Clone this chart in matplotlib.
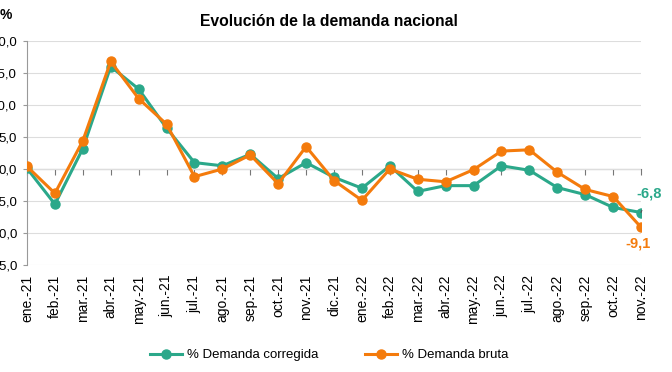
import numpy as np
import matplotlib
matplotlib.use("Agg")
import matplotlib.pyplot as plt

plt.rcParams['font.family'] = ['Liberation Sans', 'DejaVu Sans']

meses = ["ene.-21", "feb.-21", "mar.-21", "abr.-21", "may.-21", "jun.-21",
         "jul.-21", "ago.-21", "sep.-21", "oct.-21", "nov.-21", "dic.-21",
         "ene.-22", "feb.-22", "mar.-22", "abr.-22", "may.-22", "jun.-22",
         "jul.-22", "ago.-22", "sep.-22", "oct.-22", "nov.-22"]
corregida = [0.1, -5.5, 3.2, 16.0, 12.5, 6.4, 1.0, 0.5, 2.3, -1.5, 1.0, -1.3,
             -3.0, 0.5, -3.5, -2.6, -2.6, 0.5, -0.2, -2.9, -4.0, -6.0, -6.8]
bruta = [0.4, -3.8, 4.4, 16.8, 11.0, 7.0, -1.2, 0.0, 2.2, -2.3, 3.5, -1.8,
         -4.9, 0.0, -1.6, -2.0, -0.1, 2.8, 3.0, -0.5, -3.2, -4.3, -9.1]
yticks = [20, 15, 10, 5, 0, -5, -10, -15]

verde = "#2BA88A"
naranja = "#F47B0C"

fig = plt.figure(figsize=(6.72, 3.72), dpi=100)
ax = fig.add_axes([27/672, 1-265/372, (641-27)/672, (265-41)/372])

x = np.arange(len(meses))
ax.plot(x, corregida, color=verde, lw=2.2, marker="o", ms=6.5, label="% Demanda corregida", zorder=3)
ax.plot(x, bruta, color=naranja, lw=2.2, marker="o", ms=6.5, label="% Demanda bruta", zorder=4)

ax.set_xlim(0, len(meses)-1)
ax.set_ylim(-15, 20)
ax.set_yticks(yticks)
ax.set_yticklabels([f"{v:.1f}".replace(".", ",") for v in yticks], fontsize=9.5)
ax.set_xticks(x)
ax.set_xticklabels(meses, rotation=90, fontsize=10)
ax.tick_params(axis="x", length=0, pad=7)
ax.tick_params(axis="y", length=3, color="#999999", pad=4)
ax.grid(axis="y", color="#dddddd", lw=0.8)
ax.set_axisbelow(True)
for s in ["top", "right", "bottom"]:
    ax.spines[s].set_visible(False)
ax.spines["left"].set_color("#999999")

# eje de categorías cruzando en 0
sec = ax.secondary_xaxis(15/35)
sec.set_xticks(x)
sec.set_xticklabels([])
sec.tick_params(axis="x", length=4, color="#777777", direction="out")
sec.spines["bottom"].set_color("#777777")

ax.annotate("-6,8", xy=(x[-1], corregida[-1]), xytext=(x[-1]+0.3, corregida[-1]+3.05),
            color=verde, fontsize=10.5, fontweight="bold", ha="center", va="center",
            arrowprops=dict(arrowstyle="-", color="#555555", lw=0.8, shrinkA=6, shrinkB=3))
ax.annotate("-9,1", xy=(x[-1], bruta[-1]), xytext=(x[-1]-0.1, bruta[-1]-2.5),
            color=naranja, fontsize=10.5, fontweight="bold", ha="center", va="center")

fig.text(0.49, 1-22/372, "Evolución de la demanda nacional", ha="center", va="center",
         fontsize=11.3, fontweight="bold")
fig.text(0.0, 1-15/372, "%", fontsize=10, fontweight="bold", va="center")

fig.legend(loc="center", bbox_to_anchor=(0.49, 0.045), ncol=2, frameon=False,
           fontsize=9.5, handlelength=2.4, columnspacing=3.5, handletextpad=0.4)

fig.savefig("out.png", dpi=100)
